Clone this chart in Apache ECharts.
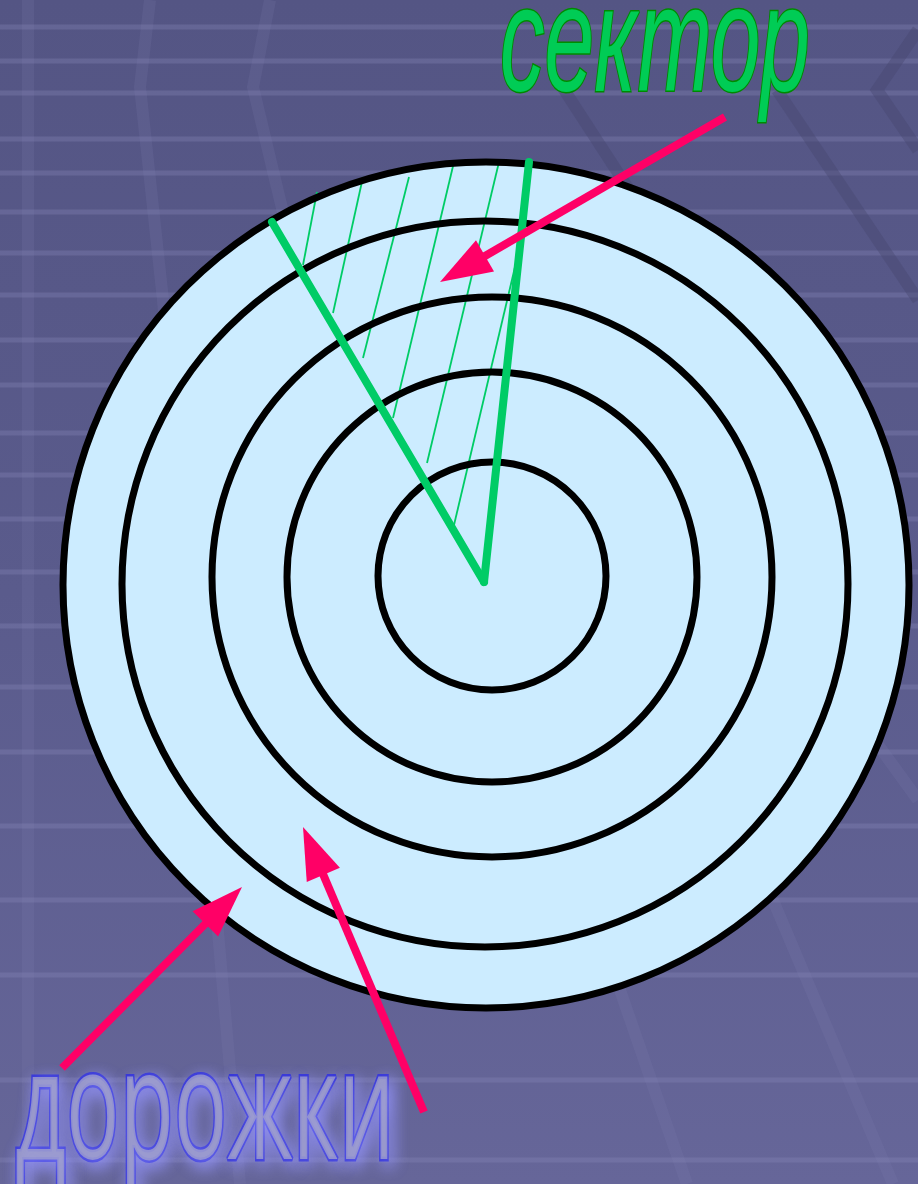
<!DOCTYPE html>
<html><head><meta charset="utf-8">
<style>
html,body{margin:0;padding:0;}
body{background:linear-gradient(to bottom,#545584 0%,#5a5b8c 50%,#666699 100%);}
#c{width:918px;height:1184px;}
</style>
<script src="https://cdn.jsdelivr.net/npm/echarts@6/dist/echarts.min.js"></script>
</head><body><div id="c"></div>
<script>
// ---- diagram data (axis units: x 0..918, y 0..1184 downward) ----
const bgRuleY = [27,61,93,139,173,212,253,295,340,385,433,475,519,572,626,687,752,826,900,975,1080,1160];
const bgLines = [
  [28,0,28,1184],
  [150,0,140,87,163,300,240,1184],
  [270,0,253,87,280,200,330,400],
  [563,88,720,330],
  [777,90,918,300],
  [918,30,877,90,918,150],
  [620,990,687,1184],
  [773,900,893,1184],
  [860,720,918,800]
];
const trackCx = [486,485,492,492,492];
const trackCy = [585,584,577,577,576];
const trackR  = [423,363,280,205,114];
const sectorEdges = [[484,582,272,222],[484,582,529,162]];
const hatchLines = [[317,192,303,265],[363,177,333,313],[409,177,363,358],[454,162,393,418],[499,162,427,463],[515,267,454,525]];
const arrowTail = [[725,117],[62,1068],[424,1112]];
const arrowTip  = [[440,282],[242,887],[303,827]];
const labelText = ['сектор','дорожки'];
const labelAnchor = [[500,88],[15,1155]];

// ---- styles ----
const GREEN = '#00cc66', PINK = '#ff0066';
const labelStyle = [
  {family:'"Liberation Sans"', style:'italic', size:150, width:310, fill:'#00cc55', stroke:'#008a00', lw:3, shadow:null},
  {family:'"Open Sans"', style:'normal', size:153, width:380, fill:'rgba(160,160,205,0.8)', stroke:'#3636d6', lw:5, shadow:'rgba(150,150,255,1)'}
];
const mctx = document.createElement('canvas').getContext('2d');
function measure(t, st){ mctx.font = st.style+' '+st.size+'px '+st.family; return mctx.measureText(t).width; }

const chart = echarts.init(document.getElementById('c'), null, {renderer:'canvas'});
const idx = a => a.map((_, i) => [i]);

chart.setOption({
  animation:false,
  backgroundColor:'transparent',
  grid:{left:0,right:0,top:0,bottom:0},
  xAxis:{type:'value',min:0,max:918,show:false},
  yAxis:{type:'value',min:0,max:1184,inverse:true,show:false},
  series:[
    { // light horizontal rules
      type:'custom', clip:false, data: bgRuleY.map(y=>[0,y]),
      renderItem:(p,api)=>{
        const a=api.coord([0,api.value(1)]), b=api.coord([918,api.value(1)]);
        return {type:'line',shape:{x1:a[0],y1:a[1],x2:b[0],y2:b[1]},style:{stroke:'rgba(140,140,190,0.3)',lineWidth:5}};
      }
    },
    { // perspective grid lines
      type:'custom', clip:false, data: idx(bgLines),
      renderItem:(p,api)=>{
        const L=bgLines[p.dataIndex], pts=[];
        for(let i=0;i<L.length;i+=2) pts.push(api.coord([L[i],L[i+1]]));
        const dark = p.dataIndex>=3 && p.dataIndex<=5;
        return {type:'polyline',shape:{points:pts},style:{stroke: dark?'rgba(70,70,110,0.4)':'rgba(130,130,180,0.16)',lineWidth:12,fill:null}};
      }
    },
    { // disk body
      type:'custom', clip:false, data: [[trackCx[0],trackCy[0],trackR[0]]],
      renderItem:(p,api)=>{
        const c=api.coord([api.value(0),api.value(1)]), r=api.size([api.value(2),0])[0];
        return {type:'circle',shape:{cx:c[0],cy:c[1],r:r},style:{fill:'#ccecff',stroke:null}};
      }
    },
    { // sector hatching
      type:'custom', clip:false, data: hatchLines,
      renderItem:(p,api)=>{
        const a=api.coord([api.value(0),api.value(1)]), b=api.coord([api.value(2),api.value(3)]);
        return {type:'line',shape:{x1:a[0],y1:a[1],x2:b[0],y2:b[1]},style:{stroke:GREEN,lineWidth:1.8}};
      }
    },
    { // tracks
      type:'custom', clip:false, data: trackCx.map((x,i)=>[x,trackCy[i],trackR[i]]),
      renderItem:(p,api)=>{
        const c=api.coord([api.value(0),api.value(1)]), r=api.size([api.value(2),0])[0];
        return {type:'circle',shape:{cx:c[0],cy:c[1],r:r},style:{fill:null,stroke:'#000',lineWidth:7}};
      }
    },
    { // sector edges
      type:'custom', clip:false, data: sectorEdges,
      renderItem:(p,api)=>{
        const a=api.coord([api.value(0),api.value(1)]), b=api.coord([api.value(2),api.value(3)]);
        return {type:'line',shape:{x1:a[0],y1:a[1],x2:b[0],y2:b[1]},style:{stroke:GREEN,lineWidth:8,lineCap:'round'}};
      }
    },
    { // arrows
      type:'custom', clip:false, data: idx(arrowTail),
      renderItem:(p,api)=>{
        const t=api.coord(arrowTail[p.dataIndex]), h=api.coord(arrowTip[p.dataIndex]);
        const dx=h[0]-t[0], dy=h[1]-t[1], len=Math.hypot(dx,dy), ux=dx/len, uy=dy/len;
        const HL=52, HW=18;
        const bx=h[0]-ux*HL, by=h[1]-uy*HL;
        return {type:'group',children:[
          {type:'line',shape:{x1:t[0],y1:t[1],x2:bx+ux*4,y2:by+uy*4},style:{stroke:PINK,lineWidth:8,lineCap:'butt'}},
          {type:'polygon',shape:{points:[[h[0],h[1]],[bx-uy*HW,by+ux*HW],[bx+uy*HW,by-ux*HW]]},style:{fill:PINK}}
        ]};
      }
    },
    { // labels
      type:'custom', clip:false, data: labelAnchor,
      renderItem:(p,api)=>{
        const st=labelStyle[p.dataIndex], txt=labelText[p.dataIndex];
        const a=api.coord([api.value(0),api.value(1)]);
        const sx = st.width/measure(txt,st);
        const style = {text:txt, x:0, y:0, fontFamily:st.family.replace(/"/g,''), fontStyle:st.style, fontSize:st.size,
          fill:st.fill, stroke:st.stroke, lineWidth:st.lw, align:'left', verticalAlign:'bottom'};
        if(st.shadow){
          style.shadowColor=st.shadow; style.shadowBlur=16; style.shadowOffsetX=4; style.shadowOffsetY=5;
          style.textShadowColor=st.shadow; style.textShadowBlur=16; style.textShadowOffsetX=4; style.textShadowOffsetY=5;
        }
        return {type:'text', x:a[0], y:a[1]+st.size*0.24, scaleX:sx, style:style};
      }
    }
  ]
});
</script></body></html>
